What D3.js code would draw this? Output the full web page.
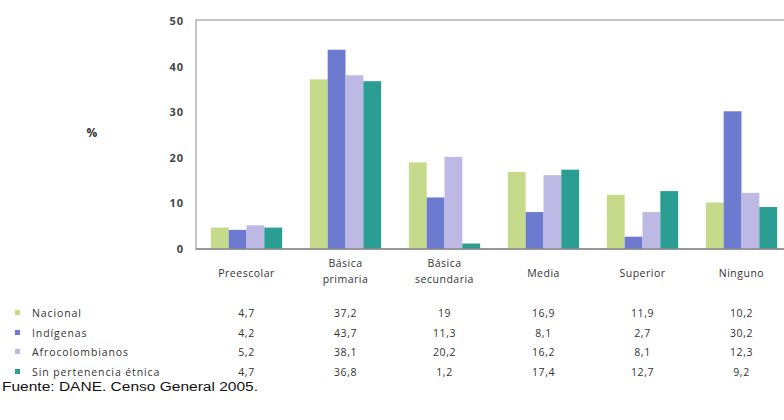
<!DOCTYPE html>
<html lang="es">
<head>
  <meta charset="UTF-8">
  <title>Nivel educativo por pertenencia étnica</title>
  <script src="https://d3js.org/d3.v7.min.js"></script>
  <style>
    body { margin: 0; background: #fff; }
    text { font-family: "Open Sans", sans-serif; fill: #333; }
  </style>
</head>
<body>
<script>
  // data
  var categories = [["Preescolar"], ["Básica", "primaria"], ["Básica", "secundaria"], ["Media"], ["Superior"], ["Ninguno"]];
  var series = ["Nacional", "Indígenas", "Afrocolombianos", "Sin pertenencia étnica"];
  var nacional = [4.7, 37.2, 19, 16.9, 11.9, 10.2];
  var indigenas = [4.2, 43.7, 11.3, 8.1, 2.7, 30.2];
  var afro = [5.2, 38.1, 20.2, 16.2, 8.1, 12.3];
  var sinPertenencia = [4.7, 36.8, 1.2, 17.4, 12.7, 9.2];
  var yTicks = [0, 10, 20, 30, 40, 50];
  var colors = ["#c6da8c", "#6c7bd0", "#bdb9e4", "#2b9e94"];

  var values = [nacional, indigenas, afro, sinPertenencia];
  var catKeys = categories.map(function (c) { return c.join(" "); });

  var width = 784, height = 420;
  var svg = d3.select("body").append("svg")
    .attr("width", width)
    .attr("height", height);

  var x = d3.scaleBand()
    .domain(catKeys)
    .range([197, 791])
    .paddingInner(0.28)
    .paddingOuter(0.14);

  var xs = d3.scaleBand()
    .domain(series)
    .range([0, x.bandwidth()]);

  var y = d3.scaleLinear()
    .domain([0, 50])
    .range([249, 21]);

  // plot frame
  svg.append("rect")
    .attr("x", 196)
    .attr("y", y(50) - 1)
    .attr("width", 620)
    .attr("height", y(0) - y(50) + 1)
    .style("fill", "none")
    .style("stroke", "#b0b0b0")
    .style("stroke-width", 1.5);

  // bars
  series.forEach(function (s, si) {
    svg.selectAll(".bar-" + si)
      .data(values[si])
      .enter().append("rect")
      .attr("class", "bar-" + si)
      .attr("x", function (d, i) { return x(catKeys[i]) + xs(s); })
      .attr("y", function (d) { return y(d); })
      .attr("width", xs.bandwidth())
      .attr("height", function (d) { return y(0) - y(d); })
      .style("fill", colors[si]);
  });

  // baseline
  svg.append("line")
    .attr("x1", 196).attr("x2", width)
    .attr("y1", y(0)).attr("y2", y(0))
    .style("stroke", "#8a8a8a")
    .style("stroke-width", 1.5);

  // y axis labels
  var yAxis = d3.axisLeft(y).tickValues(yTicks).tickSize(0).tickPadding(12);
  var gy = svg.append("g").attr("transform", "translate(196,0)").call(yAxis);
  gy.select(".domain").remove();
  gy.selectAll("text")
    .style("font-size", "11px")
    .style("font-weight", "bold")
    .style("letter-spacing", "1px")
    .style("font-family", "'Open Sans', sans-serif")
    .style("fill", "#444");

  svg.append("text")
    .attr("x", 92).attr("y", 137)
    .attr("text-anchor", "middle")
    .style("font-size", "12px")
    .style("font-weight", "bold")
    .text("%");

  // category labels
  categories.forEach(function (lines, i) {
    var cx = x(catKeys[i]) + x.bandwidth() / 2;
    var t = svg.append("text")
      .attr("text-anchor", "middle")
      .style("font-size", "10.5px")
      .style("letter-spacing", "0.5px");
    var y0 = lines.length === 1 ? 277 : 267;
    lines.forEach(function (l, j) {
      t.append("tspan").attr("x", cx).attr("y", y0 + j * 16).text(l);
    });
  });

  // data table rows
  var rowY = [317, 337, 356, 376];
  var fmt = function (v) { return String(v).replace(".", ","); };
  series.forEach(function (s, si) {
    svg.append("rect")
      .attr("x", 15).attr("y", rowY[si] - 7)
      .attr("width", 5).attr("height", 5)
      .style("fill", colors[si]);
    svg.append("text")
      .attr("x", 32).attr("y", rowY[si])
      .style("font-size", "10.5px")
      .style("letter-spacing", "0.9px")
      .text(s);
    svg.selectAll(".val-" + si)
      .data(values[si])
      .enter().append("text")
      .attr("class", "val-" + si)
      .attr("x", function (d, i) { return x(catKeys[i]) + x.bandwidth() / 2; })
      .attr("y", rowY[si])
      .attr("text-anchor", "middle")
      .style("font-size", "10.5px")
      .style("letter-spacing", "0.6px")
      .text(fmt);
  });

  svg.append("text")
    .attr("x", 2).attr("y", 391)
    .attr("textLength", 256)
    .attr("lengthAdjust", "spacingAndGlyphs")
    .style("font-family", "'Liberation Sans', Arial, sans-serif")
    .style("font-size", "12.5px")
    .style("fill", "#111")
    .text("Fuente: DANE. Censo General 2005.");
</script>
</body>
</html>
